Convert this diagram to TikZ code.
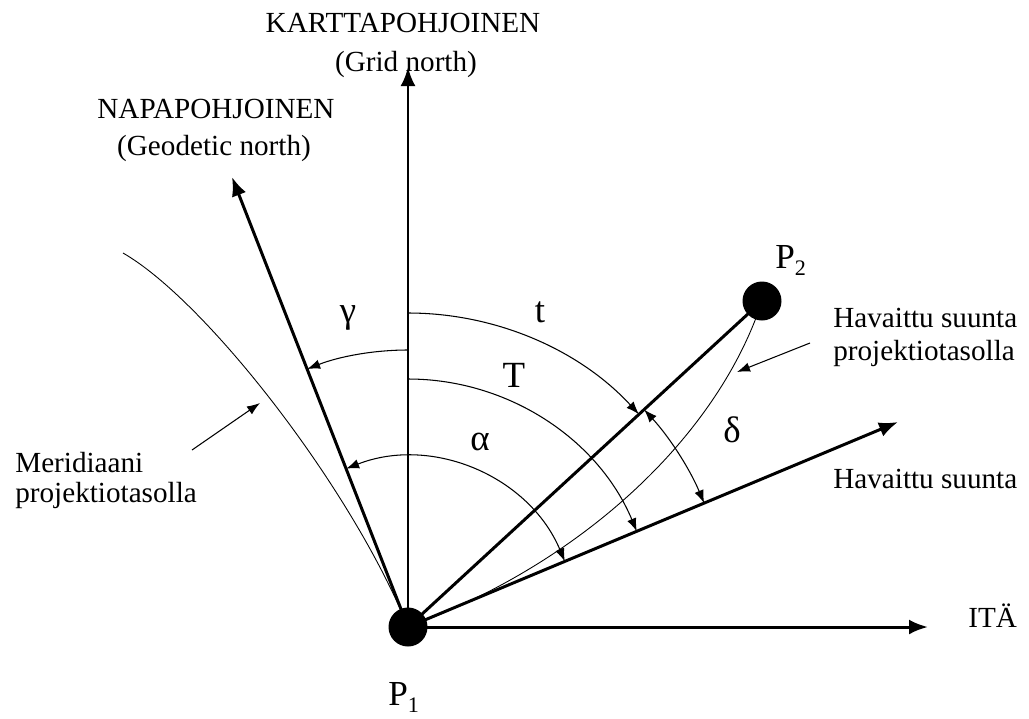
\documentclass[tikz,border=0pt]{standalone}
\usepackage{fontspec}
\setmainfont{Liberation Serif}
\usetikzlibrary{arrows.meta}
\begin{document}
\begin{tikzpicture}[x=0.02cm,y=0.02cm,
  bigtip/.tip={Latex[length=0.38cm,width=0.3cm]},
  smalltip/.tip={Latex[length=0.26cm,width=0.19cm]},
  axisline/.style={line width=1.7pt,-bigtip},
  heavyline/.style={line width=1.7pt},
  anglearc/.style={line width=0.6pt},
  thincurve/.style={line width=0.5pt},
  pointer/.style={line width=0.6pt,-smalltip},
  dot/.style={circle,fill=black,inner sep=0pt,minimum size=0.78cm},
  txt/.style={font=\fontsize{16.6}{17}\selectfont,inner sep=0pt},
  lbl/.style={font=\fontsize{21}{22}\selectfont,inner sep=0pt},
  plbl/.style={font=\fontsize{20}{22}\selectfont,inner sep=0pt}]
\useasboundingbox (0,0) rectangle (1029,-718);

% points
\node[dot] (P1) at (408,-627) {};
\node[dot] (P2) at (762,-301) {};
\coordinate (gn) at (408,-67);
\coordinate (geo) at (232,-177);
\coordinate (obs) at (898,-422);
\coordinate (east) at (928,-627);
\coordinate (mer0) at (123,-253);
\coordinate (mp0) at (192,-450);
\coordinate (mp1) at (260,-403);
\coordinate (hp0) at (810,-343);
\coordinate (hp1) at (737,-372);

% main lines
\draw[axisline] (P1.center) -- (gn);
\draw[axisline] (P1.center) -- (geo);
\draw[axisline] (P1.center) -- (obs);
\draw[axisline] (P1.center) -- (east);
\draw[heavyline] (P1.center) -- (P2.center);

% thin curves
\draw[thincurve] (P1.center) .. controls (590,-560) and (720,-430) .. (P2.center);
\draw[thincurve] (mer0) .. controls (205,-300) and (350,-485) .. (P1.center);

% angle arcs
\draw[anglearc,-smalltip] ([shift={(90:277)}]P1.center) arc[start angle=90,end angle=111.36,radius=277];
\draw[anglearc,-smalltip] ([shift={(90:314)}]P1.center) arc[start angle=90,end angle=42.64,radius=314];
\draw[anglearc,-smalltip] ([shift={(90:248)}]P1.center) arc[start angle=90,end angle=22.7,radius=248];
\draw[anglearc,smalltip-smalltip] ([shift={(111.36:170)}]P1.center) arc[start angle=111.36,end angle=22.7,radius=170];
\draw[anglearc,smalltip-smalltip] ([shift={(42.64:321)}]P1.center) arc[start angle=42.64,end angle=22.7,radius=321];

% pointers
\draw[pointer] (mp0) -- (mp1);
\draw[pointer] (hp0) -- (hp1);

% texts
\node[txt,anchor=base] (kp) at (403,-32) {KARTTAPOHJOINEN};
\node[txt,anchor=base] (gnl) at (406,-71) {(Grid north)};
\node[txt,anchor=base] (np) at (216,-118) {NAPAPOHJOINEN};
\node[txt,anchor=base] (gdl) at (214,-155) {(Geodetic north)};
\node[txt,anchor=base west] (mer1) at (15,-472) {Meridiaani};
\node[txt,anchor=base west] (mer2) at (15,-502) {projektiotasolla};
\node[txt,anchor=base west] (hs1) at (833,-327) {Havaittu suunta};
\node[txt,anchor=base west] (hs2) at (833,-360) {projektiotasolla};
\node[txt,anchor=base west] (hs3) at (833,-488) {Havaittu suunta};
\node[txt,anchor=base west] (ita) at (968,-627) {ITÄ};

% angle labels
\node[lbl,anchor=base] (gam) at (348,-322) {γ};
\node[lbl,anchor=base] (tl) at (540,-322) {t};
\node[lbl,anchor=base] (Tl) at (514,-387) {T};
\node[lbl,anchor=base] (al) at (480,-450) {α};
\node[lbl,anchor=base] (dl) at (732,-442) {δ};

% point labels
\node[plbl,anchor=base west] (p1l) at (388,-705) {P\raisebox{-4.5pt}{\fontsize{12.6}{13}\selectfont 1}};
\node[plbl,anchor=base west] (p2l) at (775,-268) {P\raisebox{-4.5pt}{\fontsize{12.6}{13}\selectfont 2}};
\end{tikzpicture}
\end{document}
